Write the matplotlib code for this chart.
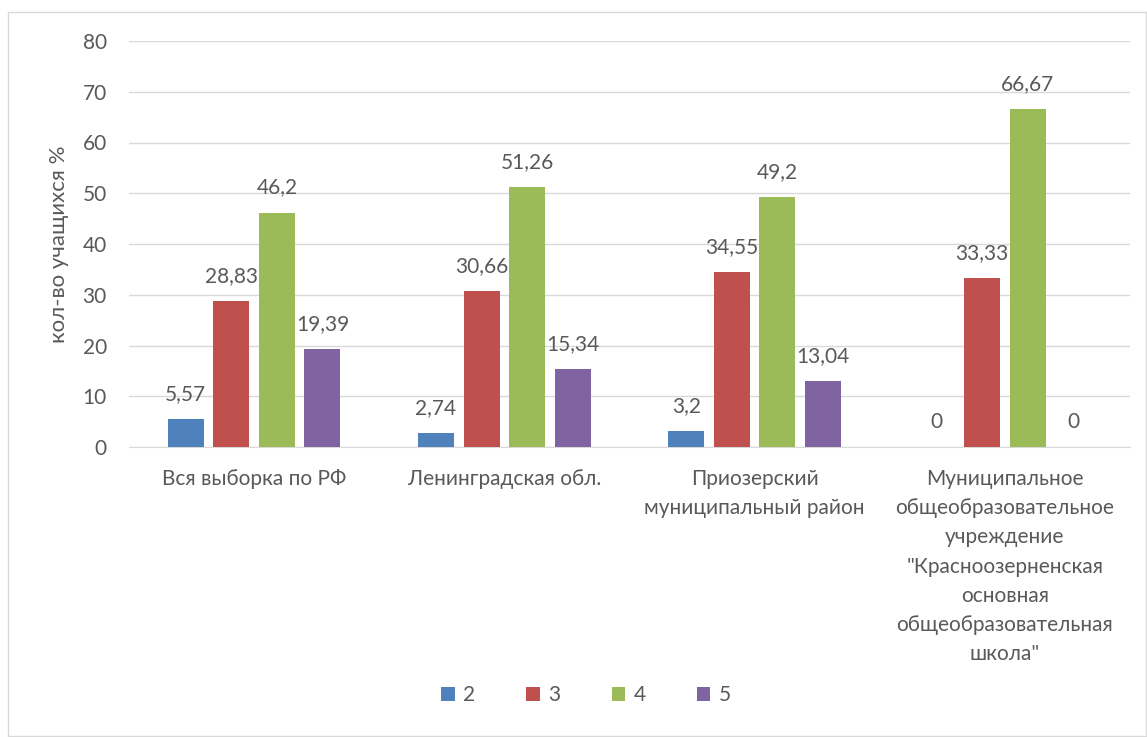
import numpy as np
import matplotlib.pyplot as plt
from matplotlib.patches import Rectangle

# ---------------------------------------------------------
# Data
# ---------------------------------------------------------
categories = [
    "Вся выборка по РФ",
    "Ленинградская обл.",
    "Приозерский\nмуниципальный район",
    "Муниципальное\nобщеобразовательное\nучреждение\n\"Красноозерненская\nосновная\nобщеобразовательная\nшкола\"",
]
series_names = ["2", "3", "4", "5"]
grade_2 = [5.57, 2.74, 3.2, 0]
grade_3 = [28.83, 30.66, 34.55, 33.33]
grade_4 = [46.2, 51.26, 49.2, 66.67]
grade_5 = [19.39, 15.34, 13.04, 0]
label_2 = ["5,57", "2,74", "3,2", "0"]
label_3 = ["28,83", "30,66", "34,55", "33,33"]
label_4 = ["46,2", "51,26", "49,2", "66,67"]
label_5 = ["19,39", "15,34", "13,04", "0"]

series = [grade_2, grade_3, grade_4, grade_5]
labels = [label_2, label_3, label_4, label_5]
colors = ["#4F81BD", "#C0504D", "#9BBB59", "#8064A2"]

# ---------------------------------------------------------
# Style
# ---------------------------------------------------------
plt.rcParams["font.family"] = ["Lato", "DejaVu Sans"]
text_color = "#595959"
fs = 15

fig = plt.figure(figsize=(11.47, 7.37), dpi=100)
ax = fig.add_axes([129 / 1147, 1 - 447 / 737, (1130 - 129) / 1147, (447 - 41) / 737])

x = np.arange(len(categories))
width = 0.144
step = 0.182

for i, (vals, labs, col, name) in enumerate(zip(series, labels, colors, series_names)):
    pos = x + (i - 1.5) * step
    ax.bar(pos, vals, width, color=col, label=name, zorder=3)
    for px, v, t in zip(pos, vals, labs):
        ax.annotate(t, (px, v), xytext=(0, 18), textcoords="offset points",
                    ha="center", va="center", fontsize=fs, color=text_color)

ax.set_xlim(-0.5, len(categories) - 0.5)
ax.set_ylim(0, 80)
ax.set_yticks(range(0, 81, 10))
ax.set_xticks(x)
ax.set_xticklabels(categories, fontsize=fs, color=text_color, linespacing=1.57)
ax.tick_params(axis="y", length=0, pad=16, labelsize=fs, labelcolor=text_color)
ax.tick_params(axis="x", length=0, pad=16)
ax.grid(axis="y", color="#D9D9D9", linewidth=1, zorder=0)
for s in ["top", "right", "left"]:
    ax.spines[s].set_visible(False)
ax.spines["bottom"].set_color("#D9D9D9")
ax.set_ylabel("кол-во учащихся %", fontsize=16, color=text_color, labelpad=10)

fig.legend(loc="center", bbox_to_anchor=(586 / 1147, 1 - 695 / 737), ncol=4,
           frameon=False, fontsize=fs, labelcolor=text_color,
           handlelength=0.65, handleheight=0.65, handletextpad=0.4,
           columnspacing=2.45)

# outer frame
fig.patches.append(Rectangle((8 / 1147, 1 / 737), 1 - 9 / 1147, 1 - 13 / 737,
                             transform=fig.transFigure, fill=False,
                             edgecolor="#D9D9D9", linewidth=1))

plt.savefig("out.png", dpi=100)
